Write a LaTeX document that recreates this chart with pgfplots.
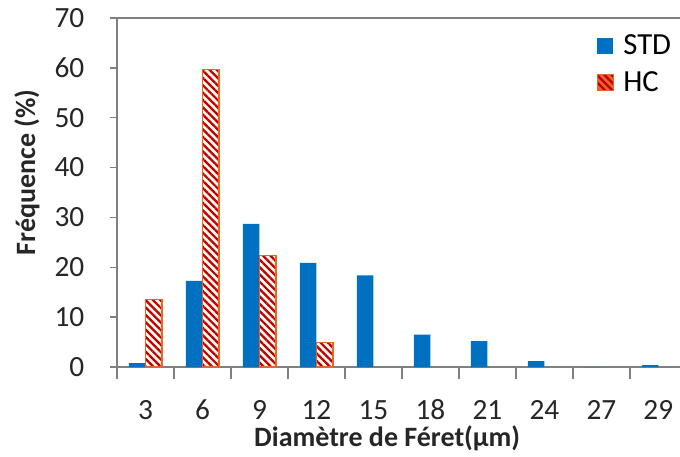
\documentclass[border=0pt]{standalone}
\usepackage{pgfplots}
\pgfplotsset{compat=1.18}
\usepackage{fontspec}
\setmainfont{Carlito}
\usetikzlibrary{patterns.meta}
\definecolor{stdblue}{RGB}{0,112,192}
\definecolor{hcred}{RGB}{192,0,0}
\definecolor{hcedge}{RGB}{232,100,40}
\definecolor{hcbg}{RGB}{255,250,238}
\definecolor{axgray}{RGB}{128,128,128}
\begin{document}
\begin{tikzpicture}
\begin{axis}[
  scale only axis, width=422.25pt, height=261.75pt,
  xmin=0.5, xmax=10.38, ymin=0, ymax=70,
  axis x line*=bottom, axis y line*=left,
  axis line style={axgray, line width=1pt},
  tick align=outside,
  xtick={1,...,10},
  xticklabels={3,6,9,12,15,18,21,24,27,29},
  minor xtick={0.5,1.5,...,9.5},
  every major x tick/.style={draw=none},
  every minor x tick/.style={axgray, line width=1pt},
  minor tick length=9pt,
  major tick length=5pt,
  ytick={0,10,...,70},
  every major y tick/.style={axgray, line width=1pt},
  /pgf/number format/assume math mode=true,
  tick label style={font=\fontsize{22}{26}\selectfont, text=black!85},
  xticklabel style={anchor=center, yshift=-27pt},
  yticklabel style={anchor=east, xshift=-16pt},
  xlabel={Diamètre de Féret(µm)},
  ylabel={Fréquence (\%)},
  label style={font=\bfseries\fontsize{21}{25}\selectfont, text=black!85},
  xlabel style={at={(axis description cs:0.48,-0.203)}, anchor=center},
  ylabel style={at={(axis description cs:-0.16,0.558)}, anchor=center, rotate=0},
  legend style={at={(axis description cs:0.852,0.96)}, anchor=north west,
    draw=none, fill=none, font=\fontsize{23}{27}\selectfont,
    row sep=7pt, inner sep=0pt,
    /tikz/every odd column/.append style={column sep=5pt}},
  legend cell align=left,
  clip=false,
]
\addplot[ybar, bar width=0.29, bar shift=-0.145, fill=stdblue, draw=none,
  area legend,
  legend image code/.code={\fill[stdblue] (0pt,-6pt) rectangle (12pt,6pt);}]
  coordinates {(1,0.8) (2,17.3) (3,28.7) (4,20.9) (5,18.4) (6,6.5) (7,5.2) (8,1.2) (9,0) (10,0.4)};
\addlegendentry{STD}
\addplot[ybar, bar width=0.29, bar shift=0.145, fill=hcbg, draw=hcedge, line width=0.8pt,
  postaction={pattern={Lines[angle=-45,distance=3.9pt,line width=1.7pt]}, pattern color=hcred},
  area legend,
  legend image code/.code={\fill[hcbg] (0pt,-6pt) rectangle (12pt,6pt);
    \fill[pattern={Lines[angle=-45,distance=3.9pt,line width=1.7pt]}, pattern color=hcred] (0pt,-6pt) rectangle (12pt,6pt);
    \draw[hcedge, line width=0.8pt] (0pt,-6pt) rectangle (12pt,6pt);}]
  coordinates {(1,13.5) (2,59.7) (3,22.4) (4,4.9)};
\addlegendentry{HC}
\draw[axgray, line width=1pt] (axis description cs:0,1) -- (axis description cs:1,1);
\end{axis}
\pgfresetboundingbox
\path (-87.75pt,-66.75pt) rectangle (422.25pt,275.25pt);
\end{tikzpicture}
\end{document}
